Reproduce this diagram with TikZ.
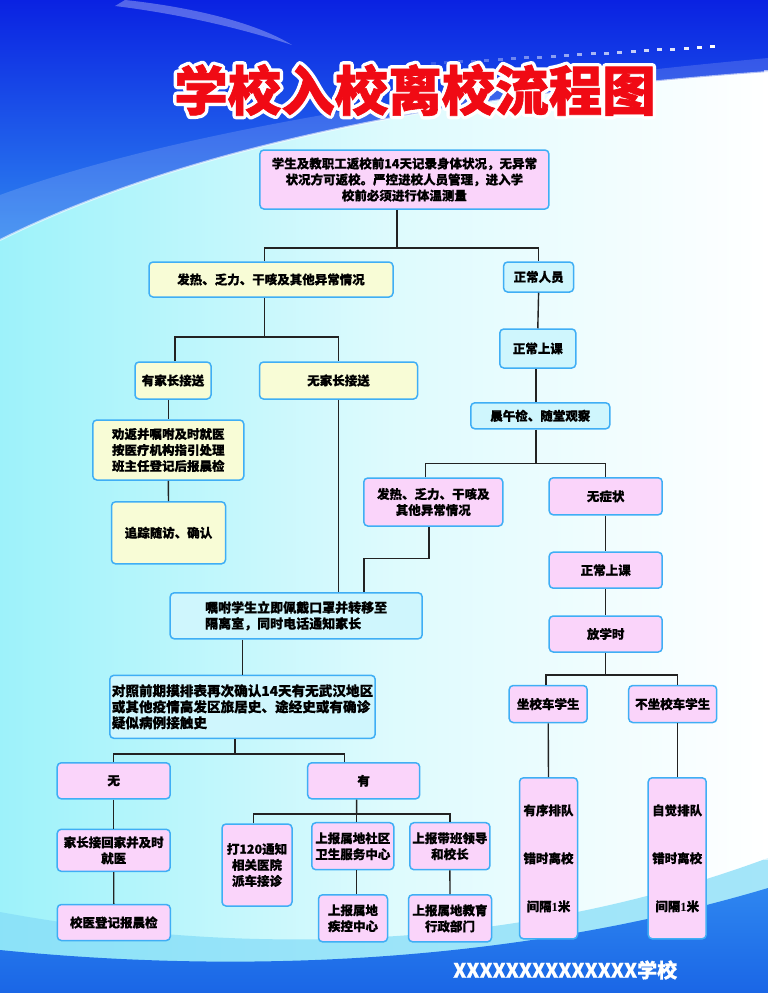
\documentclass[tikz,border=0pt]{standalone}
\usepackage{fontspec}
\setmainfont{Noto Sans CJK SC}[BoldFeatures={FakeBold=0.5}]
\newfontfamily\titlefont{Noto Sans CJK SC}[BoldFeatures={FakeBold=1.2}]
\newfontfamily\outlinefont{Noto Sans CJK SC}
\newfontfamily\digitfont{Liberation Serif}
\usepackage{tikz}
\usetikzlibrary{calc}
\definecolor{deepblue}{HTML}{0A22E2}
\definecolor{midblue}{HTML}{2E86F0}
\definecolor{bgcyan}{HTML}{9DF2FA}
\definecolor{bottomlight}{HTML}{86DDF8}
\definecolor{bottomblue}{HTML}{1A66E6}
\definecolor{boxyellow}{HTML}{F8FCD6}
\definecolor{boxblue}{HTML}{CFF6FD}
\definecolor{boxpink}{HTML}{FAD4FA}
\definecolor{edgeblue}{HTML}{3FAEF5}
\definecolor{linkgray}{HTML}{222222}
\definecolor{titlered}{HTML}{F00A14}

\begin{document}
\begin{tikzpicture}[
  x=1pt, y=-1pt,
  box/.style={
    rectangle, rounded corners=4pt,
    draw=edgeblue, line width=1.5pt,
    inner sep=2pt, align=center,
    font=\bfseries\fontsize{12.5}{16}\selectfont,
  },
  ybox/.style={box, fill=boxyellow},
  bbox/.style={box, fill=boxblue},
  pbox/.style={box, fill=boxpink},
  link/.style={draw=linkgray, line width=1.4pt},
  titletext/.style={inner sep=0pt, font=\titlefont\bfseries\fontsize{53.5}{60}\selectfont},
]
\useasboundingbox (0,0) rectangle (768,993);

% Background
\shade[left color=bgcyan, right color=white, middle color=bgcyan!35!white] (0,0) rectangle (768,993);
\shade[top color=deepblue, bottom color=midblue] (0,0) -- (768,0) -- (768,72) .. controls (480,92) and (200,140) .. (0,240) -- cycle;
\fill[white, opacity=.15] (0,195) .. controls (150,140) and (400,92) .. (768,58) -- (768,72) .. controls (480,92) and (200,140) .. (0,240) -- cycle;
\fill[white, opacity=.3] (125,0) .. controls (200,8) and (260,25) .. (292,45) .. controls (240,28) and (180,14) .. (115,6) -- cycle;
\draw[white, opacity=.6, line width=2pt] (768,72) .. controls (480,92) and (200,140) .. (0,240);
\foreach \i in {0,...,21}
  \fill[white, opacity={0.15+0.85*\i/21}] ({431+\i*13.3}, {62-\i*0.8}) rectangle +(5,3);
\fill[bottomlight, opacity=.75] (0,912) .. controls (250,958) and (520,950) .. (768,858) -- (768,993) -- (0,993) -- cycle;
\shade[top color=midblue, bottom color=bottomblue] (0,950) .. controls (250,975) and (520,962) .. (768,888) -- (768,993) -- (0,993) -- cycle;
\fill[white, opacity=.6] (764,70) rectangle (768,860);

% Title
\node[inner sep=0pt, text=white, font=\outlinefont\bfseries\fontsize{53.5}{60}\selectfont] (titleedge) at (415,90) {%
  \special{pdf:literal direct 1 1 1 RG 7.5 w 1 j 1 Tr}学校入校离校流程图\special{pdf:literal direct 0 Tr 1 w 0 j}};
\node[titletext, text=titlered] (title) at (415,90) {学校入校离校流程图};

% Entry check
\node[pbox, minimum width=289pt, minimum height=59pt] (entry) at (404.4,179.5) {
  学生及教职工返校前14天记录身体状况，无异常\\
  状况方可返校。严控进校人员管理，进入学\\
  校前必须进行体温测量};

% Abnormal on entry
\node[ybox, minimum width=244pt, minimum height=35pt] (abn) at (271,279.5) {发热、乏力、干咳及其他异常情况};
\node[ybox, minimum width=76pt, minimum height=37pt] (pick) at (173,380.5) {有家长接送};
\node[ybox, minimum width=158pt, minimum height=37pt] (nopick) at (338.5,380.5) {无家长接送};
\node[ybox, minimum width=151pt, minimum height=60pt] (advise) at (168.3,450) {
  劝返并嘱咐及时就医\\按医疗机构指引处理\\班主任登记后报晨检};
\node[ybox, minimum width=114pt, minimum height=62pt] (track) at (168.5,532.8) {追踪随访、确认};

% Normal on entry
\node[bbox, minimum width=70pt, minimum height=30pt] (normal) at (538.6,277) {正常人员};
\node[bbox, minimum width=76pt, minimum height=39pt] (class1) at (537.8,348.5) {正常上课};
\node[bbox, minimum width=139pt, minimum height=26pt] (check) at (540.3,415.8) {晨午检、随堂观察};

% Check during the day
\node[pbox, minimum width=139pt, minimum height=48pt] (sym) at (433.3,502) {发热、乏力、干咳及\\其他异常情况};
\node[pbox, minimum width=113pt, minimum height=37pt] (nosym) at (605.7,496.3) {无症状};
\node[pbox, minimum width=113pt, minimum height=36pt] (class2) at (605.7,570.2) {正常上课};
\node[pbox, minimum width=113pt, minimum height=36pt] (leave) at (605.7,634) {放学时};
\node[pbox, minimum width=78pt, minimum height=37pt] (bus) at (548.2,704) {坐校车学生};
\node[pbox, minimum width=88pt, minimum height=37pt] (nobus) at (672.7,704) {不坐校车学生};
\node[pbox, minimum width=58pt, minimum height=161pt, font=\bfseries\fontsize{12.5}{48}\selectfont] (queue1) at (548.5,858.3) {
  有序排队\\错时离校\\间隔{\digitfont 1}米};
\node[pbox, minimum width=58pt, minimum height=161pt, font=\bfseries\fontsize{12.5}{48}\selectfont] (queue2) at (677.2,858.3) {
  自觉排队\\错时离校\\间隔{\digitfont 1}米};

% Isolation
\node[bbox, minimum width=252pt, minimum height=46pt, align=left, font=\bfseries\fontsize{13}{16}\selectfont] (iso) at (296.2,615.8) {
  嘱咐学生立即佩戴口罩并转移至\\隔离室，同时电话通知家长};
\node[bbox, minimum width=264pt, minimum height=63pt, align=left, font=\bfseries\fontsize{13.6}{16}\selectfont] (hist) at (242.5,706.8) {
  对照前期摸排表再次确认14天有无武汉地区\\
  或其他疫情高发区旅居史、途经史或有确诊\\
  疑似病例接触史};

% History result
\node[pbox, minimum width=113pt, minimum height=36pt] (nohist) at (113.7,780.8) {无};
\node[pbox, minimum width=112pt, minimum height=36pt] (hashist) at (363.7,780.8) {有};
\node[pbox, minimum width=113pt, minimum height=42pt] (home) at (113.7,850.3) {家长接回家并及时\\就医};
\node[pbox, minimum width=113pt, minimum height=36pt] (doctor) at (113.8,922.5) {校医登记报晨检};
\node[pbox, minimum width=70pt, minimum height=82pt] (call) at (257,865) {打120通知\\相关医院\\派车接诊};
\node[pbox, minimum width=82pt, minimum height=47pt] (comm) at (352.8,846.2) {上报属地社区\\卫生服务中心};
\node[pbox, minimum width=80pt, minimum height=47pt] (lead) at (449.9,846.2) {上报带班领导\\和校长};
\node[pbox, minimum width=69pt, minimum height=47pt] (cdc) at (353,918.3) {上报属地\\疾控中心};
\node[pbox, minimum width=83pt, minimum height=47pt] (edu) at (450,918.3) {上报属地教育\\行政部门};

% Connectors
\coordinate (s1) at (397,248);
\draw[link] (entry.south -| s1) -- (s1);
\draw[link] ([xshift=-6.4pt]abn.north) |- (s1) -| (normal.north);
\coordinate (s2) at (264.6,337);
\draw[link] ([xshift=-6.4pt]abn.south) -- (s2);
\draw[link] ([xshift=2pt]pick.north) |- (s2) -| (nopick.north);
\draw[link] (pick.south -| advise.north) -- (advise.north);
\draw[link] (advise.south) -- (track.north);
\draw[link] (normal.south) -- (class1.north);
\draw[link] ([xshift=-1.8pt]class1.south) -- ([xshift=-1.8pt]class1.south |- check.north);
\coordinate (s3) at (536,463.7);
\draw[link] (check.south -| s3) -- (s3);
\draw[link] ([xshift=-7.6pt]sym.north) |- (s3) -| (nosym.north);
\coordinate (k1) at (364,558.3);
\draw[link] ([xshift=-4.3pt]sym.south) |- (k1) -- (k1 |- iso.north);
\draw[link] (nopick.south) -- (nopick.south |- iso.north);
\draw[link] (iso.south -| hist.north) -- (hist.north);
\coordinate (s5) at (235,754);
\draw[link] (hist.south -| s5) -- (s5);
\draw[link] (nohist.north) |- (s5) -| ([xshift=-19.2pt]hashist.north);
\draw[link] (nohist.south) -- (home.north);
\draw[link] (home.south) -- (doctor.north);
\coordinate (s6) at (356.6,814);
\draw[link] ([xshift=-7.1pt]hashist.south) -- (s6);
\draw[link] ([xshift=-3.3pt]call.north) |- (s6) -| (lead.north);
\draw[link] (s6) -- (s6 |- comm.north);
\draw[link] (comm.south -| s6) -- (s6 |- cdc.north);
\draw[link] (lead.south) -- (edu.north);
\draw[link] (nosym.south) -- (class2.north);
\draw[link] (class2.south) -- (leave.north);
\coordinate (s4) at (605.7,675);
\draw[link] (leave.south) -- (s4);
\draw[link] ([xshift=-2.2pt]bus.north) |- (s4) -| ([xshift=5pt]nobus.north);
\draw[link] (bus.south) -- (queue1.north);
\draw[link] (queue2.north |- nobus.south) -- (queue2.north);

% School name
\node[font=\bfseries\fontsize{20}{24}\selectfont, text=white, anchor=west, inner sep=0pt] (school) at (453,970) {XXXXXXXXXXXXXX学校};

\end{tikzpicture}
\end{document}
